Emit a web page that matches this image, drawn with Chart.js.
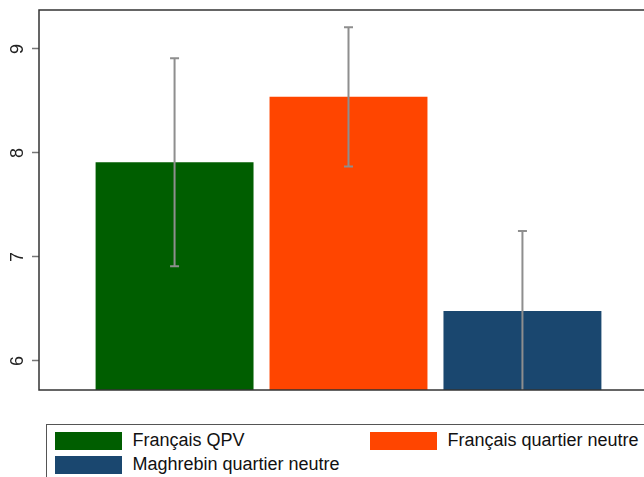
<!DOCTYPE html>
<html>
<head>
<meta charset="utf-8">
<script src="https://cdn.jsdelivr.net/npm/chart.js@4/dist/chart.umd.min.js"></script>
<style>
  html, body { margin: 0; padding: 0; background: #fff; overflow: hidden; width: 644px; height: 477px; }
  #wrap { position: absolute; left: 0; top: 0; width: 660px; height: 400px; }
  #legend {
    position: absolute; left: 46px; top: 424px; width: 640px; height: 70px;
    border: 1.5px solid #555; box-sizing: border-box;
    font-family: "Liberation Sans", Arial, sans-serif; font-size: 18px; color: #111;
  }
  .item { position: absolute; display: flex; align-items: center; height: 18px; white-space: nowrap; }
  .sw { width: 67px; height: 18px; margin-right: 11px; flex: none; }
</style>
</head>
<body>
<div id="wrap"><canvas id="c"></canvas></div>
<div id="legend"></div>
<script>
// Group means with their 95% confidence bounds
const groups = ["Français QPV", "Français quartier neutre", "Maghrebin quartier neutre"];
const means  = [7.91, 8.54, 6.48];
const ciLow  = [6.91, 7.87, 5.71];
const ciHigh = [8.91, 9.21, 7.25];
const yTicks = [6, 7, 8, 9];
const colors = ["#005e00", "#ff4500", "#1a476f"];

// Legend laid out in two columns
const legendSlots = [[7.5, 6.5], [322.5, 6.5], [7.5, 30.5]];
const legend = document.getElementById("legend");
groups.forEach((g, i) => {
  const it = document.createElement("div");
  it.className = "item";
  it.style.left = legendSlots[i][0] + "px";
  it.style.top = legendSlots[i][1] + "px";
  it.innerHTML = '<div class="sw" style="background:' + colors[i] + '"></div><span></span>';
  it.querySelector("span").textContent = g;
  legend.appendChild(it);
});

// Frame around the plot region
const framePlugin = {
  id: "frame",
  afterDraw(chart) {
    const { ctx, chartArea: a } = chart;
    ctx.save();
    ctx.strokeStyle = "#333";
    ctx.lineWidth = 1.5;
    ctx.strokeRect(a.left, a.top, a.right - a.left, a.bottom - a.top);
    ctx.restore();
  }
};

// Confidence-interval whiskers on each bar
const errorBarPlugin = {
  id: "errorBars",
  afterDatasetsDraw(chart) {
    const { ctx, chartArea: a, scales: { y } } = chart;
    ctx.save();
    ctx.beginPath();
    ctx.rect(a.left, a.top, a.right - a.left, a.bottom - a.top);
    ctx.clip();
    ctx.strokeStyle = "#8e8e8e";
    ctx.lineWidth = 2;
    chart.data.datasets.forEach((ds, i) => {
      const bar = chart.getDatasetMeta(i).data[0];
      const x = bar.x;
      const yHi = y.getPixelForValue(ciHigh[i]);
      const yLo = y.getPixelForValue(ciLow[i]);
      ctx.beginPath();
      ctx.moveTo(x, yHi); ctx.lineTo(x, yLo);
      ctx.moveTo(x - 4.5, yHi); ctx.lineTo(x + 4.5, yHi);
      ctx.moveTo(x - 4.5, yLo); ctx.lineTo(x + 4.5, yLo);
      ctx.stroke();
    });
    ctx.restore();
  }
};

new Chart(document.getElementById("c"), {
  type: "bar",
  data: {
    labels: [""],
    datasets: groups.map((g, i) => ({
      label: g,
      data: [means[i]],
      backgroundColor: colors[i],
      borderWidth: 0,
      categoryPercentage: 0.843,
      barPercentage: 0.908
    }))
  },
  options: {
    responsive: true,
    maintainAspectRatio: false,
    animation: false,
    layout: { padding: { top: 10, bottom: 10, right: 2, left: 0 } },
    plugins: { legend: { display: false }, tooltip: { enabled: false } },
    scales: {
      x: { display: false },
      y: {
        min: 5.72,
        max: 9.375,
        afterBuildTicks: s => { s.ticks = yTicks.map(v => ({ value: v })); },
        afterFit: s => { s.width = 39; s.paddingTop = 0; s.paddingBottom = 0; },
        border: { display: false },
        grid: { drawOnChartArea: false, drawTicks: true, tickLength: 7, tickColor: "#777", tickWidth: 1.5 },
        ticks: {
          minRotation: 90, maxRotation: 90, crossAlign: "center", padding: 9,
          color: "#222",
          font: { family: "'Liberation Sans', Arial, sans-serif", size: 18 }
        }
      }
    }
  },
  plugins: [errorBarPlugin, framePlugin]
});
</script>
</body>
</html>
